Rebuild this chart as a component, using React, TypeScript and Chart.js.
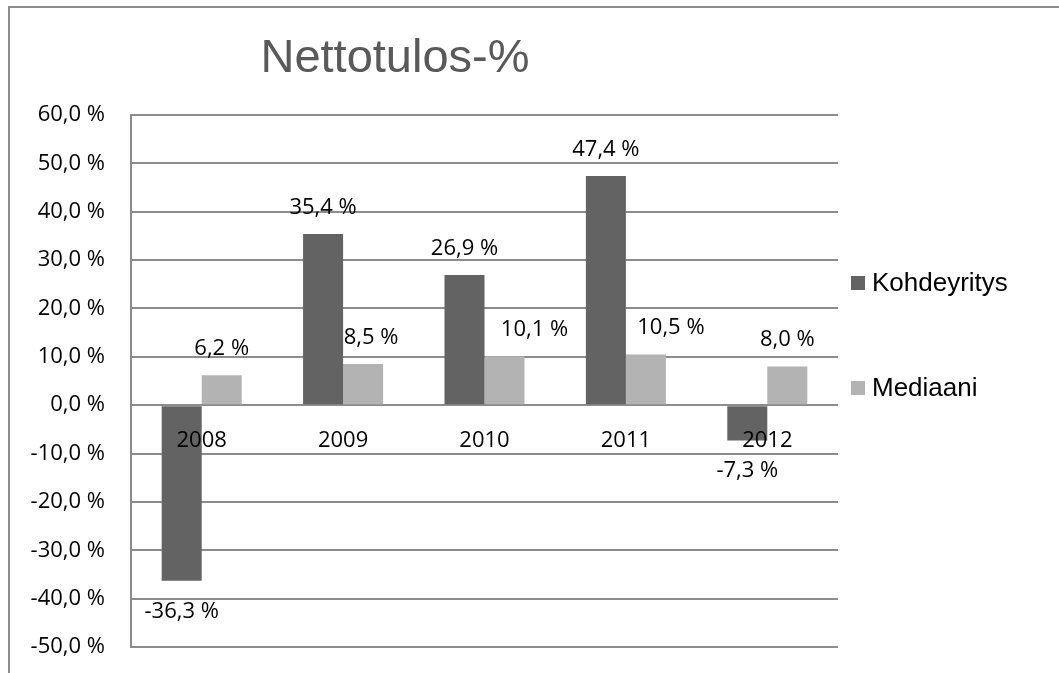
import React, { useEffect, useRef } from "react";
import { Chart, registerables } from "chart.js";

Chart.register(...registerables);

// ---- data ----
const chartTitle = "Nettotulos-%";
const categories = ["2008", "2009", "2010", "2011", "2012"];
const seriesNames = ["Kohdeyritys", "Mediaani"];
const kohdeyritys = [-36.3, 35.4, 26.9, 47.4, -7.3];
const mediaani = [6.2, 8.5, 10.1, 10.5, 8.0];
const yMin = -50;
const yMax = 60;
const yStep = 10;

// ---- styles ----
const seriesColors = ["#636363", "#b3b3b3"];
const gridColor = "#8c8c8c";
const labelFont = "'Open Sans', 'Noto Sans', sans-serif";
const legendFont = "'Liberation Sans', Arial, sans-serif";
// horizontal nudges of value labels (as placed in the original)
const labelNudgeX = [
  [0, 0, 0, 0, 0],
  [0, 8, 30, 25, 0],
];

const fmt = (v: number) => v.toFixed(1).replace(".", ",") + " %";

const titlePlugin = {
  id: "customTitle",
  afterDraw(chart: any) {
    const { ctx, chartArea } = chart;
    ctx.save();
    ctx.font = `47px ${legendFont}`;
    ctx.fillStyle = "#595959";
    ctx.textAlign = "center";
    ctx.textBaseline = "alphabetic";
    ctx.fillText(chartTitle, chartArea.left + 264, chartArea.top - 43);
    ctx.restore();
  },
};

const legendPlugin = {
  id: "customLegend",
  afterDraw(chart: any) {
    const { ctx, chartArea } = chart;
    ctx.save();
    chart.data.datasets.forEach((ds: any, i: number) => {
      const cy = chartArea.top + 168 + i * 105;
      ctx.fillStyle = ds.backgroundColor;
      ctx.fillRect(chartArea.right + 13, cy - 7, 14, 14);
      ctx.fillStyle = "#000";
      ctx.font = `26px ${legendFont}`;
      ctx.textAlign = "left";
      ctx.textBaseline = "alphabetic";
      ctx.fillText(ds.label, chartArea.right + 34, cy + 8);
    });
    ctx.restore();
  },
};

const valueLabelPlugin = {
  id: "valueLabels",
  afterDatasetsDraw(chart: any) {
    const { ctx } = chart;
    ctx.save();
    ctx.font = `22px ${labelFont}`;
    ctx.fillStyle = "#000";
    ctx.textAlign = "center";
    ctx.textBaseline = "alphabetic";
    chart.data.datasets.forEach((ds: any, di: number) => {
      const meta = chart.getDatasetMeta(di);
      meta.data.forEach((el: any, i: number) => {
        const v = ds.data[i] as number;
        const { x, y } = el.getProps(["x", "y"], true);
        const ty = v >= 0 ? y - 20 : y + 37;
        ctx.fillText(fmt(v), x + labelNudgeX[di][i], ty);
      });
    });
    ctx.restore();
  },
};

export default function App() {
  const canvasRef = useRef<HTMLCanvasElement | null>(null);

  useEffect(() => {
    if (!canvasRef.current) return;
    const chart = new Chart(canvasRef.current, {
      type: "bar",
      data: {
        labels: categories,
        datasets: [
          {
            label: seriesNames[0],
            data: kohdeyritys,
            backgroundColor: seriesColors[0],
            borderWidth: 0,
            categoryPercentage: 0.566,
            barPercentage: 1,
          },
          {
            label: seriesNames[1],
            data: mediaani,
            backgroundColor: seriesColors[1],
            borderWidth: 0,
            categoryPercentage: 0.566,
            barPercentage: 1,
          },
        ],
      },
      options: {
        animation: false,
        responsive: false,
        layout: { padding: { left: 0, top: 107, right: 221, bottom: 26 } },
        plugins: {
          legend: { display: false },
          title: { display: false },
          tooltip: { enabled: false },
        },
        scales: {
          x: {
            position: { y: 0 } as any,
            grid: { display: false, drawTicks: false },
            border: { display: false },
            ticks: {
              z: 1,
              color: "#000",
              font: { family: labelFont, size: 22 },
              padding: 22,
              maxRotation: 0,
              autoSkip: false,
            } as any,
            afterFit: (s: any) => {
              s.height = 0;
              s.paddingLeft = 0;
              s.paddingRight = 0;
            },
          },
          y: {
            min: yMin,
            max: yMax,
            ticks: {
              stepSize: yStep,
              maxTicksLimit: 20,
              callback: (v: any) => fmt(Number(v)),
              padding: 26,
              color: "#000",
              font: { family: labelFont, size: 22 },
            },
            grid: { color: gridColor, lineWidth: 2, drawTicks: false },
            border: { display: true, color: gridColor, width: 2 },
            afterFit: (s: any) => {
              s.width = 121;
              s.paddingTop = 0;
              s.paddingBottom = 0;
            },
          },
        },
      },
      plugins: [valueLabelPlugin, legendPlugin, titlePlugin],
    });
    return () => chart.destroy();
  }, []);

  return (
    <div
      style={{
        position: "absolute",
        left: 8,
        top: 6,
        width: 1049,
        height: 665,
        borderTop: `2px solid ${gridColor}`,
        borderLeft: `2px solid ${gridColor}`,
        background: "#fff",
        overflow: "hidden",
      }}
    >
      <canvas ref={canvasRef} width={1049} height={665} style={{ display: "block" }} />
    </div>
  );
}
